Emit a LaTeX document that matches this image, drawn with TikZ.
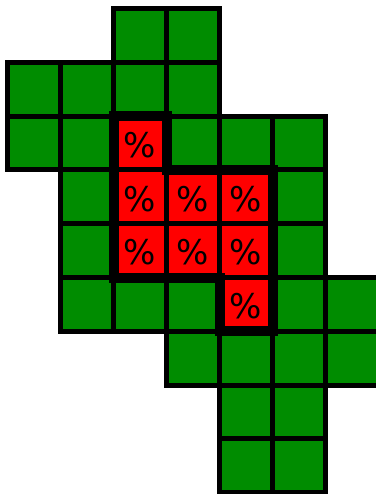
\documentclass[tikz,border=0pt]{standalone}
\usepackage{fontspec}
\setmainfont{DejaVu Sans}
\definecolor{cellgreen}{RGB}{0,140,0}
\definecolor{cellred}{RGB}{255,0,0}
\begin{document}
\begin{tikzpicture}[x=1pt,y=-1pt,
  cellbox/.style={draw=black,line width=5pt,minimum width=53pt,minimum height=53.8pt,inner sep=0pt,outer sep=0pt,anchor=center},
  greencell/.style={cellbox,fill=cellgreen},
  redcell/.style={cellbox,fill=cellred},
  pct/.style={font=\fontsize{34}{34}\selectfont,inner sep=0pt},
  outline/.style={draw=black,line width=10pt,miter limit=10}]
\useasboundingbox (0,0) rectangle (375,494);
\foreach \r/\c in {0/2,0/3,1/0,1/1,1/2,1/3,2/0,2/1,2/3,2/4,2/5,3/1,3/5,4/1,4/5,5/1,5/2,5/3,5/5,5/6,6/3,6/4,6/5,6/6,7/4,7/5,8/4,8/5}
  \node[greencell] (g-\r-\c) at ({34+53*\c},{35.4+53.8*\r}) {};
\foreach \r/\c in {2/2,3/2,3/3,3/4,4/2,4/3,4/4,5/4}{
  \node[redcell] (r-\r-\c) at ({34+53*\c},{35.4+53.8*\r}) {};
  \node[pct] (t-\r-\c) at ([yshift=-2pt]r-\r-\c.center) {\%};
}
\draw[outline] (r-2-2.north west) -- (r-2-2.north east) -- (r-3-3.north west)
  -- (r-3-4.north east) -- (r-5-4.south east) -- (r-5-4.south west)
  -- (r-5-4.north west) -- (r-4-2.south west) -- cycle;
\end{tikzpicture}
\end{document}
